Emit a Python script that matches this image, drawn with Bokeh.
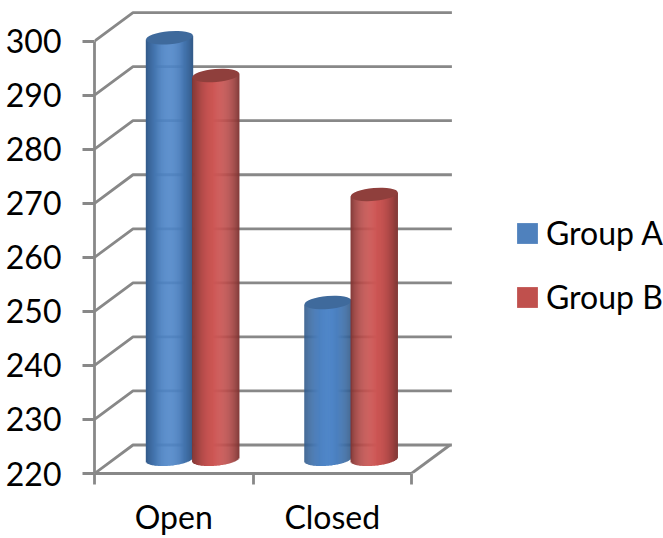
import numpy as np
from bokeh.embed import file_html
from bokeh.models import ColumnDataSource, FixedTicker, Legend, LegendItem, Range1d
from bokeh.plotting import figure
from bokeh.resources import INLINE

# Chart data
categories = ["Open", "Closed"]
group_a = [298, 249]
group_b = [291, 269]
y_ticks = [220, 230, 240, 250, 260, 270, 280, 290, 300]
group_names = ["Group A", "Group B"]

# Styling
FONT = "Lato"
FONT_SIZE = "32px"
TEXT = "#000000"
GRID = "#888888"
LINE_W = 2.8
BLUE = {"flat": "#4f81bd", "mid": "#4f86c8", "edge": "#335a88", "cap": "#3f6a9c"}
RED = {"flat": "#c0504d", "mid": "#cd5654", "edge": "#7f3533", "cap": "#8f3f3c"}

# Pixel scale of the plot frame, used to express the 3D box in data units
PX_X = 158.5
PX_Y = 5.405
BASE = 220
DX = 38.5 / PX_X
DY = 28.5 / PX_Y
BAR_W = 47 / PX_X
ELL_B = 6.5 / PX_Y
TILT = 2.0 / PX_Y
N_STRIPS = 48

p = figure(
    width=663, height=538, output_backend="svg", toolbar_location=None,
    min_border_left=94, min_border_right=0, min_border_top=0, min_border_bottom=65,
    x_range=Range1d(0, 569 / PX_X), y_range=Range1d(BASE, BASE + 473 / PX_Y),
    outline_line_color=None, background_fill_color="white", border_fill_color="white",
)
p.grid.visible = False

# Walls and floor of the box
for v in y_ticks:
    p.line([0, DX, 2 + DX + 0.012], [v, v + DY, v + DY], line_color=GRID, line_width=LINE_W)
p.line([2, 2 + DX], [BASE, BASE + DY], line_color=GRID, line_width=LINE_W)


def mix(c1, c2, f):
    a = np.array([int(c1[i:i + 2], 16) for i in (1, 3, 5)])
    b = np.array([int(c2[i:i + 2], 16) for i in (1, 3, 5)])
    r = np.rint(a + (b - a) * f).astype(int)
    return "#%02x%02x%02x" % tuple(r)


def cylinder(xc, val, pal):
    """A shaded cylinder: thin vertical strips plus a tilted elliptical cap."""
    t = (np.arange(N_STRIPS) + 0.5) / N_STRIPS * 2 - 1
    xs = xc + t * BAR_W / 2
    base_y = BASE + DY / 2
    bottoms = base_y - ELL_B * np.sqrt(1 - t ** 2) + TILT * t
    tops = val + DY / 2 + TILT * t
    cols = [mix(pal["mid"], pal["edge"], abs(v) ** 2.0) for v in t]
    src = ColumnDataSource(dict(x=xs, top=tops, bottom=bottoms, color=cols))
    p.vbar(x="x", top="top", bottom="bottom", width=BAR_W / N_STRIPS * 1.4,
           fill_color="color", line_color=None, source=src)
    p.ellipse(x=[xc], y=[val + DY / 2], width=47, height=13, angle=[np.arctan2(2.0, 23.5)],
              width_units="screen", height_units="screen",
              fill_color=pal["cap"], line_color=None)


for i in range(len(categories)):
    centre = i + 0.5 + DX / 2
    cylinder(centre - BAR_W / 2, group_a[i], BLUE)
    cylinder(centre + BAR_W / 2 - 0.75 / PX_X, group_b[i], RED)

# Axes
yax = p.yaxis[0]
yax.ticker = FixedTicker(ticks=y_ticks)
yax.bounds = (BASE, 300)
yax.axis_line_color = GRID
yax.axis_line_width = LINE_W
yax.major_tick_line_color = GRID
yax.major_tick_line_width = LINE_W
yax.major_tick_in = 0
yax.major_tick_out = 12
yax.minor_tick_line_color = None
yax.major_label_text_font = FONT
yax.major_label_text_font_size = FONT_SIZE
yax.major_label_text_color = TEXT
yax.major_label_standoff = 21

xax = p.xaxis[0]
xax.ticker = FixedTicker(ticks=[0.5, 1.5], minor_ticks=[0, 1, 2])
xax.major_label_overrides = {0.5: categories[0], 1.5: categories[1]}
xax.bounds = (0, 2)
xax.axis_line_color = GRID
xax.axis_line_width = LINE_W
xax.major_tick_line_color = None
xax.major_tick_out = 0
xax.major_tick_in = 0
xax.minor_tick_line_color = GRID
xax.minor_tick_line_width = LINE_W
xax.minor_tick_out = 11
xax.minor_tick_in = 0
xax.major_label_text_font = FONT
xax.major_label_text_font_size = FONT_SIZE
xax.major_label_text_color = TEXT
xax.major_label_standoff = 12

# Legend keyed on hidden renderers so that only flat swatches appear
blank = dict(x=[np.nan], top=[np.nan])
key_a = p.vbar(x="x", top="top", width=0.1, fill_color=BLUE["flat"], line_color=None,
               source=ColumnDataSource(blank))
key_b = p.vbar(x="x", top="top", width=0.1, fill_color=RED["flat"], line_color=None,
               source=ColumnDataSource(blank))
legend = Legend(
    items=[LegendItem(label=group_names[0], renderers=[key_a]),
           LegendItem(label=group_names[1], renderers=[key_b])],
    location=(420, 157), orientation="vertical",
    glyph_width=26, glyph_height=26, spacing=25, padding=0, margin=0,
    label_standoff=6, label_height=35, label_text_font=FONT, label_text_font_size=FONT_SIZE,
    label_text_color=TEXT, background_fill_alpha=0, border_line_color=None,
)
p.add_layout(legend, "center")

open("out.html", "w").write(file_html(p, INLINE))
